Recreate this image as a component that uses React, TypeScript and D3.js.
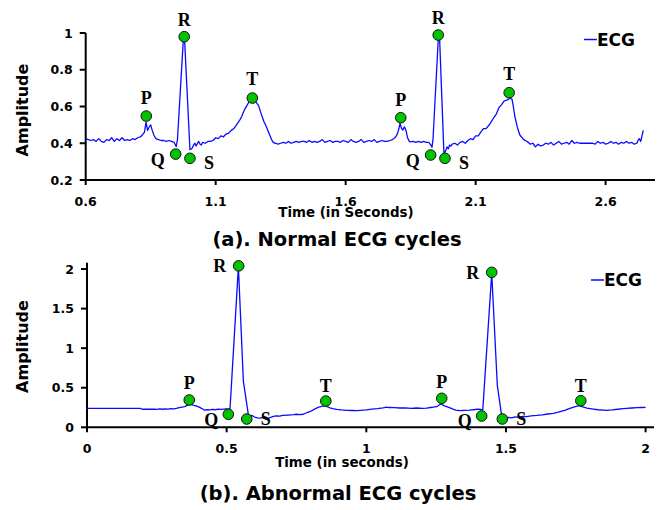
import React from 'react';
import * as d3 from 'd3';

// ---------- DATA ----------
// (a) Normal ECG: [time (s), amplitude]
const normalEcg: [number, number][] = [
  [0.60, 0.425], [0.61, 0.42], [0.62, 0.415], [0.63, 0.42], [0.64, 0.41], [0.65, 0.425],
  [0.66, 0.41], [0.67, 0.405], [0.68, 0.42], [0.69, 0.415], [0.70, 0.43], [0.71, 0.41],
  [0.72, 0.425], [0.73, 0.415], [0.74, 0.43], [0.75, 0.415], [0.76, 0.42], [0.77, 0.415],
  [0.78, 0.425], [0.79, 0.42], [0.80, 0.43], [0.81, 0.435], [0.815, 0.44], [0.82, 0.45],
  [0.826, 0.46], [0.832, 0.515], [0.838, 0.47], [0.845, 0.49], [0.85, 0.5], [0.856, 0.47],
  [0.862, 0.445], [0.87, 0.425], [0.88, 0.42], [0.89, 0.415], [0.90, 0.415], [0.91, 0.41],
  [0.92, 0.415], [0.93, 0.41], [0.94, 0.405], [0.948, 0.382], [0.953, 0.42], [0.976, 0.975],
  [0.98, 0.975], [1.001, 0.365], [1.008, 0.37], [1.015, 0.39], [1.02, 0.4], [1.025, 0.385],
  [1.03, 0.4], [1.035, 0.41], [1.04, 0.395], [1.045, 0.39], [1.05, 0.405], [1.06, 0.4],
  [1.07, 0.41], [1.08, 0.41], [1.09, 0.415], [1.10, 0.43], [1.11, 0.425], [1.12, 0.44],
  [1.13, 0.435], [1.14, 0.45], [1.15, 0.455], [1.16, 0.47], [1.17, 0.48], [1.18, 0.5],
  [1.19, 0.52], [1.20, 0.545], [1.21, 0.58], [1.22, 0.605], [1.23, 0.63], [1.238, 0.645],
  [1.245, 0.62], [1.25, 0.635], [1.255, 0.625], [1.265, 0.605], [1.275, 0.56], [1.285, 0.52],
  [1.295, 0.49], [1.305, 0.455], [1.315, 0.42], [1.322, 0.403], [1.33, 0.4], [1.34, 0.395],
  [1.35, 0.4], [1.36, 0.405], [1.37, 0.4], [1.38, 0.41], [1.39, 0.4], [1.40, 0.405],
  [1.41, 0.41], [1.42, 0.405], [1.43, 0.41], [1.44, 0.41], [1.45, 0.405], [1.46, 0.415],
  [1.47, 0.405], [1.48, 0.41], [1.49, 0.405], [1.50, 0.41], [1.51, 0.42], [1.52, 0.405],
  [1.53, 0.41], [1.54, 0.415], [1.55, 0.405], [1.56, 0.41], [1.57, 0.41], [1.58, 0.405],
  [1.59, 0.415], [1.60, 0.41], [1.61, 0.405], [1.62, 0.42], [1.63, 0.41], [1.64, 0.405],
  [1.65, 0.41], [1.66, 0.42], [1.67, 0.405], [1.68, 0.41], [1.69, 0.415], [1.70, 0.41],
  [1.71, 0.42], [1.72, 0.405], [1.73, 0.41], [1.74, 0.415], [1.75, 0.41], [1.76, 0.41],
  [1.77, 0.415], [1.78, 0.42], [1.79, 0.43], [1.795, 0.44], [1.80, 0.455], [1.805, 0.48],
  [1.809, 0.508], [1.815, 0.48], [1.82, 0.472], [1.826, 0.49], [1.832, 0.47], [1.838, 0.43],
  [1.845, 0.41], [1.85, 0.408], [1.86, 0.41], [1.87, 0.405], [1.88, 0.41], [1.89, 0.405],
  [1.90, 0.41], [1.91, 0.405], [1.92, 0.405], [1.928, 0.39], [1.932, 0.378], [1.936, 0.42],
  [1.957, 0.985], [1.961, 0.985], [1.978, 0.345], [1.985, 0.36], [1.99, 0.38], [1.995, 0.37],
  [2.00, 0.39], [2.005, 0.385], [2.01, 0.395], [2.02, 0.4], [2.03, 0.39], [2.04, 0.405],
  [2.05, 0.41], [2.06, 0.4], [2.07, 0.415], [2.08, 0.425], [2.09, 0.42], [2.10, 0.44],
  [2.11, 0.44], [2.12, 0.46], [2.13, 0.48], [2.14, 0.48], [2.155, 0.505], [2.17, 0.54],
  [2.18, 0.56], [2.19, 0.595], [2.20, 0.61], [2.21, 0.63], [2.22, 0.635], [2.232, 0.645],
  [2.24, 0.64], [2.245, 0.6], [2.251, 0.545], [2.26, 0.49], [2.27, 0.445], [2.285, 0.42],
  [2.30, 0.408], [2.31, 0.395], [2.32, 0.4], [2.33, 0.38], [2.34, 0.395], [2.35, 0.385],
  [2.36, 0.39], [2.37, 0.4], [2.38, 0.395], [2.39, 0.405], [2.40, 0.39], [2.41, 0.4],
  [2.42, 0.41], [2.43, 0.395], [2.44, 0.4], [2.45, 0.405], [2.46, 0.395], [2.47, 0.415],
  [2.48, 0.4], [2.49, 0.405], [2.50, 0.4], [2.51, 0.4], [2.52, 0.4], [2.53, 0.4],
  [2.54, 0.4], [2.55, 0.4], [2.56, 0.395], [2.57, 0.41], [2.58, 0.4], [2.59, 0.405],
  [2.60, 0.395], [2.61, 0.4], [2.62, 0.41], [2.63, 0.4], [2.64, 0.405], [2.65, 0.395],
  [2.66, 0.405], [2.67, 0.4], [2.68, 0.41], [2.69, 0.4], [2.70, 0.405], [2.71, 0.395],
  [2.72, 0.4], [2.725, 0.415], [2.73, 0.425], [2.735, 0.41], [2.74, 0.44], [2.745, 0.47],
];

// (b) Abnormal ECG: [time (s), amplitude]
const abnormalEcg: [number, number][] = [
  [0.00, 0.24], [0.05, 0.24], [0.10, 0.24], [0.15, 0.24], [0.19, 0.238], [0.20, 0.228],
  [0.22, 0.228], [0.24, 0.23], [0.25, 0.226], [0.26, 0.232], [0.27, 0.228], [0.28, 0.234],
  [0.29, 0.23], [0.30, 0.236], [0.31, 0.232], [0.32, 0.24], [0.33, 0.25], [0.34, 0.256],
  [0.35, 0.262], [0.36, 0.28], [0.369, 0.292], [0.38, 0.28], [0.39, 0.272], [0.40, 0.258],
  [0.41, 0.24], [0.42, 0.218], [0.43, 0.222], [0.44, 0.22], [0.45, 0.226], [0.46, 0.222],
  [0.47, 0.228], [0.48, 0.226], [0.49, 0.23], [0.50, 0.232], [0.512, 0.228], [0.542, 2.03],
  [0.56, 0.576], [0.578, 0.155], [0.585, 0.14], [0.59, 0.15], [0.60, 0.13], [0.61, 0.12],
  [0.62, 0.115], [0.63, 0.125], [0.64, 0.11], [0.65, 0.115], [0.66, 0.13], [0.67, 0.14],
  [0.68, 0.145], [0.69, 0.14], [0.70, 0.15], [0.72, 0.155], [0.74, 0.16], [0.75, 0.165],
  [0.76, 0.16], [0.775, 0.165], [0.79, 0.19], [0.80, 0.2], [0.81, 0.22], [0.82, 0.24],
  [0.83, 0.255], [0.84, 0.265], [0.852, 0.275], [0.86, 0.26], [0.87, 0.245], [0.88, 0.235],
  [0.894, 0.227], [0.91, 0.22], [0.93, 0.215], [0.95, 0.212], [0.966, 0.21], [0.98, 0.215],
  [1.00, 0.22], [1.02, 0.23], [1.04, 0.235], [1.06, 0.245], [1.073, 0.255], [1.08, 0.25],
  [1.10, 0.248], [1.12, 0.244], [1.14, 0.246], [1.16, 0.24], [1.18, 0.244], [1.20, 0.238],
  [1.216, 0.242], [1.23, 0.25], [1.24, 0.255], [1.252, 0.26], [1.266, 0.294], [1.28, 0.27],
  [1.29, 0.258], [1.30, 0.245], [1.31, 0.23], [1.32, 0.218], [1.335, 0.21], [1.35, 0.214],
  [1.37, 0.216], [1.39, 0.225], [1.40, 0.23], [1.41, 0.225], [1.417, 0.22], [1.449, 1.945],
  [1.469, 0.534], [1.485, 0.134], [1.49, 0.12], [1.50, 0.115], [1.51, 0.125], [1.52, 0.12],
  [1.53, 0.13], [1.54, 0.128], [1.55, 0.13], [1.56, 0.138], [1.574, 0.134], [1.59, 0.145],
  [1.61, 0.15], [1.63, 0.158], [1.65, 0.168], [1.67, 0.177], [1.69, 0.195], [1.71, 0.215],
  [1.729, 0.24], [1.745, 0.258], [1.763, 0.273], [1.775, 0.258], [1.79, 0.242], [1.813, 0.23],
  [1.83, 0.222], [1.85, 0.218], [1.861, 0.215], [1.88, 0.22], [1.90, 0.228], [1.92, 0.236],
  [1.932, 0.24], [1.95, 0.244], [1.97, 0.248], [1.985, 0.25], [2.00, 0.253],
];

type Peak = { label: string; t: number; v: number };

const normalPeaks: Peak[] = [
  { label: 'P', t: 0.833, v: 0.548 }, { label: 'Q', t: 0.946, v: 0.341 },
  { label: 'R', t: 0.979, v: 0.98 }, { label: 'S', t: 1.001, v: 0.318 },
  { label: 'T', t: 1.241, v: 0.646 }, { label: 'P', t: 1.812, v: 0.539 },
  { label: 'Q', t: 1.927, v: 0.336 }, { label: 'R', t: 1.956, v: 0.989 },
  { label: 'S', t: 1.982, v: 0.318 }, { label: 'T', t: 2.229, v: 0.675 },
];

const abnormalPeaks: Peak[] = [
  { label: 'P', t: 0.366, v: 0.345 }, { label: 'Q', t: 0.506, v: 0.164 },
  { label: 'R', t: 0.543, v: 2.04 }, { label: 'S', t: 0.572, v: 0.105 },
  { label: 'T', t: 0.855, v: 0.332 }, { label: 'P', t: 1.27, v: 0.366 },
  { label: 'Q', t: 1.413, v: 0.143 }, { label: 'R', t: 1.449, v: 1.958 },
  { label: 'S', t: 1.487, v: 0.105 }, { label: 'T', t: 1.768, v: 0.336 },
];

const normalXTicks = [0.6, 1.1, 1.6, 2.1, 2.6];
const normalYTicks = [0.2, 0.4, 0.6, 0.8, 1];
const abnormalXTicks = [0, 0.5, 1, 1.5, 2];
const abnormalYTicks = [0, 0.5, 1, 1.5, 2];

// ---------- STYLE ----------
const SANS = '"DejaVu Sans", Verdana, sans-serif';
const SERIF = '"Liberation Serif", "Times New Roman", serif';
const LINE_COLOR = '#0a0aff';
const DOT_FILL = '#00c400';

type Offsets = Record<string, [number, number]>;

interface PanelProps {
  data: [number, number][];
  peaks: Peak[];
  x: d3.ScaleLinear<number, number>;
  y: d3.ScaleLinear<number, number>;
  xTicks: number[];
  yTicks: number[];
  xLabel: string;
  title: string;
  offsets: Offsets;
  tickLabelY: number;
  xLabelY: number;
  titleY: number;
  xLabelX: number;
  titleX: number;
  ampX: number;
  ampY: number;
  legendX: number;
  legendY: number;
}

function Panel(p: PanelProps) {
  const line = d3
    .line<[number, number]>()
    .x((d) => p.x(d[0]))
    .y((d) => p.y(d[1]))
    .curve(d3.curveLinear);
  const [x0, x1] = p.x.range();
  const [y0, y1] = p.y.range();
  return (
    <g>
      {/* axes */}
      <line x1={x0} x2={x1} y1={y0} y2={y0} stroke="#000" strokeWidth={2} />
      <line x1={x0} x2={x0} y1={y0} y2={y1} stroke="#000" strokeWidth={2} />
      {p.xTicks.map((t) => (
        <g key={'xt' + t}>
          <line x1={p.x(t)} x2={p.x(t)} y1={y0} y2={y0 + 5} stroke="#000" strokeWidth={2} />
          <text
            x={p.x(t)}
            y={p.tickLabelY}
            textAnchor="middle"
            fontFamily={SANS}
            fontWeight="bold"
            fontSize={12.5}
          >
            {String(t)}
          </text>
        </g>
      ))}
      {p.yTicks.map((t) => (
        <g key={'yt' + t}>
          <line x1={x0 - 6} x2={x0} y1={p.y(t)} y2={p.y(t)} stroke="#000" strokeWidth={2} />
          <text
            x={x0 - 13}
            y={p.y(t)}
            dy="0.36em"
            textAnchor="end"
            fontFamily={SANS}
            fontWeight="bold"
            fontSize={12.5}
          >
            {String(t)}
          </text>
        </g>
      ))}
      {/* series */}
      <path d={line(p.data) || ''} fill="none" stroke={LINE_COLOR} strokeWidth={1.3} strokeLinejoin="round" />
      {p.peaks.map((k, i) => {
        const cx = p.x(k.t);
        const cy = p.y(k.v);
        const [dx, dy] = p.offsets[k.label];
        return (
          <g key={'pk' + i}>
            <circle cx={cx} cy={cy} r={5.3} fill={DOT_FILL} stroke="#111" strokeWidth={1} />
            <text
              x={cx + dx}
              y={cy + dy}
              dy="0.35em"
              textAnchor="middle"
              fontFamily={SERIF}
              fontWeight="bold"
              fontSize={18}
            >
              {k.label}
            </text>
          </g>
        );
      })}
      {/* labels */}
      <text
        transform={`translate(${p.ampX},${p.ampY}) rotate(-90)`}
        dy="0.36em"
        textAnchor="middle"
        fontFamily={SANS}
        fontWeight="bold"
        fontSize={16}
      >
        Amplitude
      </text>
      <text x={p.xLabelX} y={p.xLabelY} textAnchor="middle" fontFamily={SANS} fontWeight="bold" fontSize={13.4}>
        {p.xLabel}
      </text>
      <text x={p.titleX} y={p.titleY} textAnchor="middle" fontFamily={SANS} fontWeight="bold" fontSize={19.5}>
        {p.title}
      </text>
      {/* legend */}
      <line x1={p.legendX} x2={p.legendX + 13} y1={p.legendY} y2={p.legendY} stroke={LINE_COLOR} strokeWidth={1.5} />
      <text x={p.legendX + 13} y={p.legendY} dy="0.36em" fontFamily={SANS} fontWeight="bold" fontSize={17}>
        ECG
      </text>
    </g>
  );
}

export default function App() {
  const xA = d3.scaleLinear().domain([0.6, 2.79]).range([85.7, 655]);
  const yA = d3.scaleLinear().domain([0.2, 1]).range([180, 33]);
  const xB = d3.scaleLinear().domain([0, 2.03]).range([87, 654]);
  const yB = d3.scaleLinear().domain([0, 2.08]).range([427.3, 262.7]);

  const offA: Offsets = { P: [0, -18], Q: [-18, 6], R: [0, -17], S: [19, 4], T: [0, -19] };
  const offB: Offsets = { P: [0, -17], Q: [-17, 5], R: [-19, 0], S: [19, 0], T: [0, -15] };

  return (
    <svg
      width={657}
      height={510}
      style={{ position: 'absolute', left: 0, top: 0, background: '#fff' }}
    >
      <rect x={0} y={0} width={657} height={510} fill="#fff" />
      <Panel
        data={normalEcg}
        peaks={normalPeaks}
        x={xA}
        y={yA}
        xTicks={normalXTicks}
        yTicks={normalYTicks}
        xLabel="Time (in Seconds)"
        title="(a). Normal ECG cycles"
        offsets={offA}
        tickLabelY={206}
        xLabelY={217}
        xLabelX={346}
        titleY={246}
        titleX={337}
        ampX={22}
        ampY={110}
        legendX={584}
        legendY={39.5}
      />
      <Panel
        data={abnormalEcg}
        peaks={abnormalPeaks}
        x={xB}
        y={yB}
        xTicks={abnormalXTicks}
        yTicks={abnormalYTicks}
        xLabel="Time (in seconds)"
        title="(b). Abnormal ECG cycles"
        offsets={offB}
        tickLabelY={453}
        xLabelY={467}
        xLabelX={342}
        titleY={500}
        titleX={338}
        ampX={22}
        ampY={346.5}
        legendX={591}
        legendY={280}
      />
    </svg>
  );
}
